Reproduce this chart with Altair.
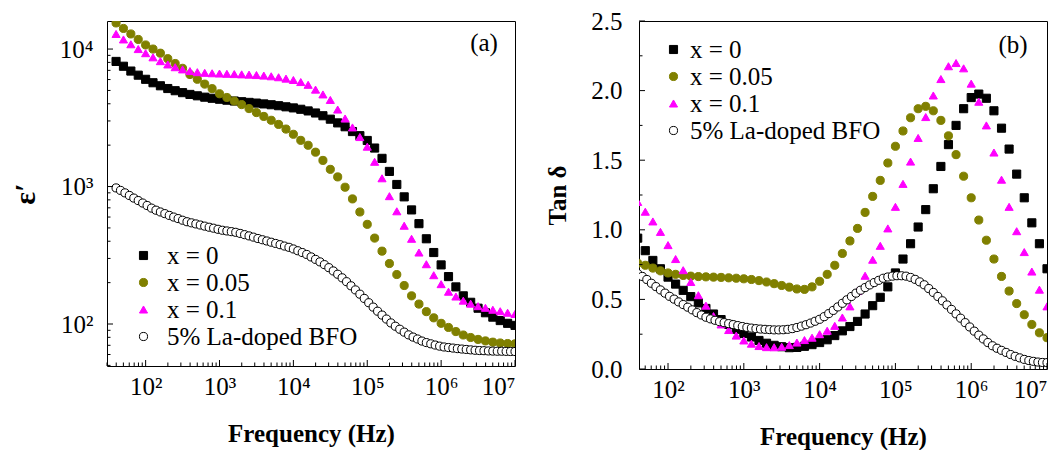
import altair as alt
import pandas as pd

FONT = "Liberation Serif"

SERIES = ["x = 0", "x = 0.05", "x = 0.1", "5% La-doped BFO"]
SHAPES = ["square", "circle", "triangle-up", "circle"]
FILLS = ["#000000", "#808000", "#ff00ff", "#ffffff"]
STROKES = ["#000000", "#808000", "#ff00ff", "#000000"]
SIZES = [66, 66, 92, 58]

# log10 of frequency (Hz) of the measured points
LOG_F = [1.6, 1.7, 1.8, 1.9, 2.0, 2.1, 2.2, 2.3, 2.4, 2.5, 2.6, 2.7, 2.8, 2.9,
         3.0, 3.1, 3.2, 3.3, 3.4, 3.5, 3.6, 3.7, 3.8, 3.9, 4.0, 4.1, 4.2, 4.3,
         4.4, 4.5, 4.6, 4.7, 4.8, 4.9, 5.0, 5.1, 5.2, 5.3, 5.4, 5.5, 5.6, 5.7,
         5.8, 5.9, 6.0, 6.1, 6.2, 6.3, 6.4, 6.5, 6.6, 6.7, 6.8, 6.9, 7.0]
LOG_F_FINE = [1.60, 1.66, 1.72, 1.78, 1.84, 1.90, 1.96, 2.02, 2.08, 2.14, 2.20,
              2.26, 2.32, 2.38, 2.44, 2.50, 2.56, 2.62, 2.68, 2.74, 2.80, 2.86,
              2.92, 2.98, 3.04, 3.10, 3.16, 3.22, 3.28, 3.34, 3.40, 3.46, 3.52,
              3.58, 3.64, 3.70, 3.76, 3.82, 3.88, 3.94, 4.00, 4.06, 4.12, 4.18,
              4.24, 4.30, 4.36, 4.42, 4.48, 4.54, 4.60, 4.66, 4.72, 4.78, 4.84,
              4.90, 4.96, 5.02, 5.08, 5.14, 5.20, 5.26, 5.32, 5.38, 5.44, 5.50,
              5.56, 5.62, 5.68, 5.74, 5.80, 5.86, 5.92, 5.98, 6.04, 6.10, 6.16,
              6.22, 6.28, 6.34, 6.40, 6.46, 6.52, 6.58, 6.64, 6.70, 6.76, 6.82,
              6.88, 6.94, 7.00]

# panel (a): log10 of epsilon'
EPS_X0 = [3.91, 3.875, 3.84, 3.81, 3.78, 3.755, 3.733, 3.713, 3.697, 3.683,
          3.67, 3.66, 3.65, 3.642, 3.635, 3.628, 3.622, 3.617, 3.612, 3.607,
          3.601, 3.595, 3.588, 3.58, 3.572, 3.562, 3.55, 3.535, 3.515, 3.49,
          3.463, 3.435, 3.40, 3.37, 3.335, 3.28, 3.205, 3.11, 3.015, 2.925,
          2.83, 2.73, 2.62, 2.52, 2.43, 2.345, 2.27, 2.205, 2.158, 2.115,
          2.082, 2.05, 2.025, 2.005, 1.99]
EPS_X005 = [4.19, 4.15, 4.11, 4.07, 4.03, 4.0, 3.97, 3.93, 3.895, 3.86,
            3.815, 3.78, 3.745, 3.712, 3.675, 3.648, 3.622, 3.596, 3.567, 3.538,
            3.51, 3.482, 3.452, 3.418, 3.38, 3.336, 3.30, 3.25, 3.19, 3.125,
            3.07, 2.995, 2.91, 2.815, 2.725, 2.625, 2.53, 2.44, 2.36, 2.28,
            2.205, 2.145, 2.09, 2.045, 2.005, 1.975, 1.945, 1.92, 1.902, 1.888,
            1.877, 1.868, 1.862, 1.858, 1.856]
EPS_X01 = [4.11, 4.07, 4.035, 4.0, 3.97, 3.94, 3.912, 3.888, 3.868, 3.852,
           3.84, 3.832, 3.827, 3.824, 3.822, 3.82, 3.818, 3.816, 3.814, 3.811,
           3.807, 3.802, 3.795, 3.785, 3.775, 3.76, 3.74, 3.705, 3.67, 3.63,
           3.56, 3.495, 3.43, 3.36, 3.29, 3.18, 3.06, 2.93, 2.82, 2.715,
           2.62, 2.52, 2.435, 2.355, 2.29, 2.235, 2.20, 2.17, 2.148, 2.13,
           2.118, 2.104, 2.093, 2.082, 2.073]
EPS_BFO = [2.990, 2.972, 2.954, 2.935, 2.916, 2.898, 2.880, 2.862, 2.843, 2.828,
           2.815, 2.803, 2.790, 2.778, 2.767, 2.755, 2.744, 2.736, 2.728, 2.720,
           2.712, 2.704, 2.697, 2.689, 2.682, 2.677, 2.672, 2.667, 2.659, 2.650,
           2.641, 2.632, 2.622, 2.613, 2.604, 2.595, 2.586, 2.577, 2.567, 2.558,
           2.546, 2.533, 2.520, 2.506, 2.488, 2.470, 2.452, 2.432, 2.410, 2.386,
           2.362, 2.336, 2.308, 2.278, 2.248, 2.217, 2.186, 2.155, 2.123, 2.093,
           2.065, 2.036, 2.008, 1.984, 1.962, 1.941, 1.921, 1.905, 1.891, 1.876,
           1.865, 1.856, 1.847, 1.839, 1.833, 1.829, 1.825, 1.821, 1.818, 1.815,
           1.812, 1.809, 1.807, 1.806, 1.804, 1.803, 1.802, 1.802, 1.801, 1.800,
           1.800]

# panel (b): tan delta
TAN_X0 = [0.94, 0.85, 0.78, 0.72, 0.66, 0.61, 0.565, 0.52, 0.475, 0.435,
          0.395, 0.355, 0.32, 0.285, 0.255, 0.23, 0.205, 0.185, 0.17, 0.16,
          0.153, 0.155, 0.163, 0.175, 0.19, 0.21, 0.24, 0.274, 0.305, 0.342,
          0.395, 0.455, 0.515, 0.59, 0.69, 0.79, 0.90, 1.02, 1.145, 1.295,
          1.455, 1.612, 1.75, 1.87, 1.95, 1.975, 1.945, 1.855, 1.73, 1.58,
          1.40, 1.23, 1.05, 0.90, 0.72]
TAN_X005 = [0.76, 0.745, 0.725, 0.705, 0.69, 0.68, 0.672, 0.667, 0.664, 0.662,
            0.66, 0.658, 0.655, 0.652, 0.648, 0.643, 0.635, 0.625, 0.613, 0.60,
            0.588, 0.575, 0.572, 0.59, 0.63, 0.68, 0.745, 0.83, 0.92, 1.01,
            1.125, 1.24, 1.355, 1.48, 1.60, 1.71, 1.805, 1.87, 1.887, 1.855,
            1.786, 1.675, 1.54, 1.385, 1.23, 1.07, 0.925, 0.79, 0.665, 0.56,
            0.47, 0.39, 0.32, 0.26, 0.225]
TAN_X01 = [1.20, 1.13, 1.06, 0.985, 0.89, 0.79, 0.71, 0.625, 0.53, 0.455,
           0.38, 0.32, 0.28, 0.24, 0.205, 0.182, 0.165, 0.157, 0.156, 0.16,
           0.172, 0.19, 0.208, 0.225, 0.25, 0.275, 0.31, 0.37, 0.45, 0.56,
           0.67, 0.785, 0.885, 1.01, 1.165, 1.33, 1.49, 1.66, 1.81, 1.965,
           2.083, 2.175, 2.198, 2.16, 2.05, 1.92, 1.75, 1.555, 1.36, 1.165,
           0.99, 0.84, 0.70, 0.57, 0.45]
TAN_BFO = [0.685, 0.665, 0.643, 0.616, 0.592, 0.568, 0.545, 0.522, 0.502, 0.482,
           0.463, 0.444, 0.425, 0.405, 0.388, 0.372, 0.360, 0.350, 0.340, 0.333,
           0.326, 0.319, 0.312, 0.305, 0.299, 0.294, 0.290, 0.287, 0.285, 0.283,
           0.281, 0.281, 0.282, 0.285, 0.290, 0.298, 0.308, 0.318, 0.330, 0.343,
           0.357, 0.376, 0.398, 0.421, 0.446, 0.472, 0.497, 0.521, 0.545, 0.566,
           0.585, 0.604, 0.621, 0.637, 0.652, 0.661, 0.667, 0.670, 0.670, 0.667,
           0.658, 0.644, 0.626, 0.605, 0.578, 0.550, 0.521, 0.490, 0.460, 0.428,
           0.396, 0.365, 0.333, 0.302, 0.272, 0.243, 0.216, 0.190, 0.167, 0.149,
           0.134, 0.119, 0.104, 0.091, 0.080, 0.069, 0.061, 0.055, 0.050, 0.047,
           0.046]

X_MAJOR = [1e2, 1e3, 1e4, 1e5, 1e6, 1e7]
X_MINOR = [m * 10 ** d for d in range(1, 7) for m in range(2, 10)]
YA_MAJOR = [1e2, 1e3, 1e4]
YA_MINOR = [m * 10 ** d for d in range(1, 5) for m in range(2, 10)]
YB_MAJOR = [0.0, 0.5, 1.0, 1.5, 2.0, 2.5]
YB_MINOR = [0.25, 0.75, 1.25, 1.75, 2.25]

SUP = ("'10' + ['\u2070','\u00b9','\u00b2','\u00b3','\u2074','\u2075','\u2076',"
       "'\u2077','\u2078'][round(log(datum.value)/LN10)]")


def build_table(groups, log_y):
    rows = []
    for name, lf, vals in groups:
        for e, v in zip(lf, vals):
            rows.append({"freq": 10 ** e, "val": (10 ** v) if log_y else v, "series": name})
    return pd.DataFrame(rows)


df_a = build_table([(SERIES[0], LOG_F, EPS_X0), (SERIES[1], LOG_F, EPS_X005),
                    (SERIES[2], LOG_F, EPS_X01), (SERIES[3], LOG_F_FINE, EPS_BFO)], True)
df_b = build_table([(SERIES[0], LOG_F, TAN_X0), (SERIES[1], LOG_F, TAN_X005),
                    (SERIES[2], LOG_F, TAN_X01), (SERIES[3], LOG_F_FINE, TAN_BFO)], False)


def panel(df, xdom, ydom, ylog, ymajor, yminor, ytitle, ytitle_size, ylabel_pad,
          ytitle_pad, yextent, leg_x, leg_y, leg_off, tag, tag_x, tag_y, w, h):
    xs = alt.Scale(type="log", domain=xdom, nice=False)
    if ylog:
        ys = alt.Scale(type="log", domain=ydom, nice=False)
        yaxis = alt.Axis(values=ymajor, labelExpr=SUP, title=ytitle,
                         labelPadding=ylabel_pad, titlePadding=ytitle_pad,
                         titleFontSize=ytitle_size, minExtent=yextent, maxExtent=yextent)
    else:
        ys = alt.Scale(type="linear", domain=ydom, nice=False, zero=True)
        yaxis = alt.Axis(values=ymajor, format=".1f", title=ytitle,
                         labelPadding=ylabel_pad, titlePadding=ytitle_pad,
                         titleFontSize=ytitle_size, minExtent=yextent, maxExtent=yextent)
    xaxis = alt.Axis(values=X_MAJOR, labelExpr=SUP, title="Frequency (Hz)",
                     labelPadding=8, titlePadding=22)

    leg = alt.Legend(title=None, orient="none", legendX=leg_x, legendY=leg_y,
                     labelFont=FONT, labelFontSize=25, labelColor="black",
                     symbolStrokeWidth=1, labelOffset=leg_off,
                     rowPadding=1, padding=0, labelLimit=400)

    pts = alt.Chart(df).mark_point(strokeWidth=1, opacity=1, clip=True).encode(
        x=alt.X("freq:Q", scale=xs, axis=xaxis),
        y=alt.Y("val:Q", scale=ys, axis=yaxis),
        shape=alt.Shape("series:N", scale=alt.Scale(domain=SERIES, range=SHAPES), legend=leg),
        fill=alt.Fill("series:N", scale=alt.Scale(domain=SERIES, range=FILLS), legend=leg),
        stroke=alt.Stroke("series:N", scale=alt.Scale(domain=SERIES, range=STROKES), legend=leg),
        size=alt.Size("series:N", scale=alt.Scale(domain=SERIES, range=SIZES), legend=leg),
    )

    xmin_ticks = [v for v in X_MINOR if xdom[0] <= v <= xdom[1]]
    ymin_ticks = [v for v in yminor if ydom[0] <= v <= ydom[1]]

    def xt(vals, ln):
        return alt.Chart(pd.DataFrame({"freq": vals})).mark_rule(color="black", strokeWidth=1).encode(
            x=alt.X("freq:Q", scale=xs, axis=xaxis), y=alt.value(h), y2=alt.value(h - ln))

    def yt(vals, ln):
        return alt.Chart(pd.DataFrame({"val": vals})).mark_rule(color="black", strokeWidth=1).encode(
            y=alt.Y("val:Q", scale=ys, axis=yaxis), x=alt.value(0), x2=alt.value(ln))

    label = alt.Chart(pd.DataFrame({"t": [tag]})).mark_text(
        font=FONT, fontSize=25, color="black", align="center", baseline="middle"
    ).encode(text="t:N", x=alt.value(tag_x), y=alt.value(tag_y))

    return alt.layer(pts, xt(X_MAJOR, 6), xt(xmin_ticks, 3.5), yt(ymajor, 6),
                     yt(ymin_ticks, 3.5), label).properties(width=w, height=h)


left = panel(df_a, [30, 1e7], [49.5, 16000], True, YA_MAJOR, YA_MINOR, "\u03b5\u2032", 30,
             14, 17, 50, 24, 222, 11, "(a)", 377, 22, 408, 345)
right = panel(df_b, [41.4, 1e7], [0, 2.5], False, YB_MAJOR, YB_MINOR, "Tan \u03b4", 25,
              17, 19, 50, 22, 16, 4, "(b)", 374, 24, 408, 348)

chart = alt.hconcat(left, right, spacing=124, bounds="flush").resolve_scale(
    x="independent", y="independent", shape="independent", fill="independent",
    stroke="independent", size="independent"
).resolve_legend(
    shape="independent", fill="independent", stroke="independent", size="independent"
).configure_view(
    stroke="black", strokeWidth=1
).configure_axis(
    labelFont=FONT, labelFontSize=25, labelColor="black", titleFont=FONT,
    titleFontSize=25, titleFontWeight="bold", titleColor="black", domain=False,
    ticks=False, grid=False, labelOverlap=False, labelBound=False
).configure_legend(
    labelFont=FONT, labelFontSize=25, labelColor="black"
).properties(
    padding={"left": 1, "top": 0, "right": 0, "bottom": 0}
)

chart.save("out.html", embed_options={"renderer": "svg", "actions": False})
